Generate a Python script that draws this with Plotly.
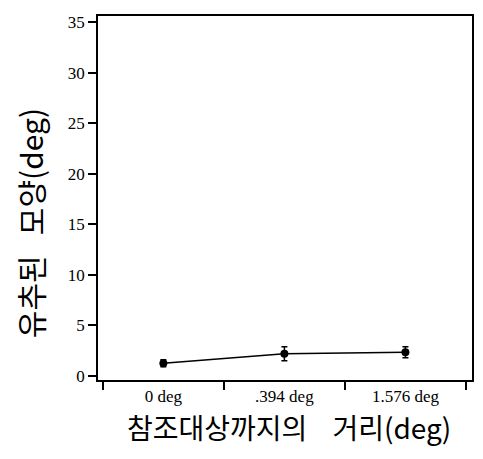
import plotly.graph_objects as go

categories = ["0 deg", ".394 deg", "1.576 deg"]
means = [1.25, 2.2, 2.35]
errors = [0.35, 0.7, 0.55]
y_ticks = [0, 5, 10, 15, 20, 25, 30, 35]

x_title = "참조대상까지의\u00a0\u00a0\u00a0\u00a0거리(deg)"
y_title = "유추된\u00a0\u00a0\u00a0모양(deg)"

fig = go.Figure()
fig.add_trace(go.Scatter(
    x=categories, y=means,
    mode="lines+markers",
    line=dict(color="black", width=1.5),
    marker=dict(color="black", size=8, symbol="circle"),
    error_y=dict(type="data", array=errors, visible=True, color="black", thickness=1.5, width=3),
    showlegend=False,
))

fig.update_layout(
    width=475, height=451,
    margin=dict(l=90, r=11, t=5, b=79),
    paper_bgcolor="white", plot_bgcolor="white",
    font=dict(family="Liberation Serif", color="black", size=17),
    xaxis=dict(
        type="category", range=[-0.54, 2.55],
        tickson="boundaries", ticks="outside", ticklen=8, tickwidth=1.5, tickcolor="black",
        showline=True, linecolor="black", linewidth=1.5, mirror=True,
        showgrid=False, zeroline=False,
        tickfont=dict(family="Liberation Serif", size=17, color="black"),
    ),
    yaxis=dict(
        range=[-0.4, 35.6], tickvals=y_ticks,
        ticks="outside", ticklen=8, tickwidth=1.5, tickcolor="black",
        showline=True, linecolor="black", linewidth=1.5, mirror=True,
        showgrid=False, zeroline=False,
        tickfont=dict(family="Liberation Serif", size=17, color="black"),
    ),
    annotations=[
        dict(text=x_title, xref="paper", yref="paper", x=0.51, y=-0.128,
             showarrow=False, xanchor="center", yanchor="middle",
             font=dict(family="Noto Sans CJK KR", size=28, color="black")),
        dict(text=y_title, xref="paper", yref="paper", x=-0.18, y=0.43,
             showarrow=False, xanchor="center", yanchor="middle", textangle=-90,
             font=dict(family="Noto Sans CJK KR", size=30, color="black")),
    ],
)

fig.write_html("out.html")
